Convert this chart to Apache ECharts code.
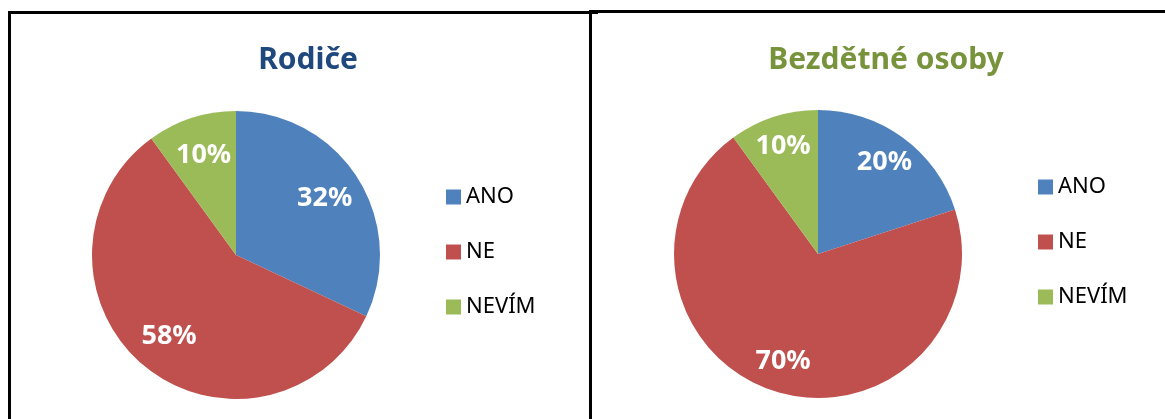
<!DOCTYPE html>
<html>
<head>
<meta charset="utf-8">
<script src="https://cdn.jsdelivr.net/npm/echarts@6/dist/echarts.min.js"></script>
<style>
  html, body { margin: 0; padding: 0; background: #fff; }
  #wrap { position: relative; width: 1165px; height: 419px; overflow: hidden; }
  .panel { position: absolute; box-sizing: border-box; border-top: 3px solid #000; border-left: 3px solid #000; }
  #p1 { left: 8px; top: 11px; width: 590px; height: 440px; }
  #p2 { left: 589px; top: 10px; width: 600px; height: 440px; }
  #chart { position: absolute; left: 0; top: 0; width: 1165px; height: 419px; }
</style>
</head>
<body>
<div id="wrap">
  <div class="panel" id="p1"></div>
  <div class="panel" id="p2"></div>
  <div id="chart"></div>
</div>
<script>
  // data
  const categories = ['ANO', 'NE', 'NEVÍM'];
  const rodiceValues = [32, 58, 10];
  const bezdetniValues = [20, 70, 10];
  const titles = ['Rodiče', 'Bezdětné osoby'];
  const colors = ['#4F81BD', '#C0504D', '#9BBB59'];

  const font = '"Noto Sans", "DejaVu Sans", sans-serif';

  function toData(vals) {
    return categories.map((name, i) => ({ name: name, value: vals[i] }));
  }

  // pie + transparent overlay that only carries the % labels
  function pieSeries(vals, center, innerR) {
    return [
      {
        type: 'pie',
        center: center,
        radius: 144,
        startAngle: 90,
        clockwise: true,
        silent: true,
        label: { show: false },
        labelLine: { show: false },
        data: toData(vals)
      },
      {
        type: 'pie',
        center: center,
        radius: [innerR, 144],
        startAngle: 90,
        clockwise: true,
        silent: true,
        legendHoverLink: false,
        itemStyle: { color: 'rgba(0,0,0,0)' },
        label: {
          show: true,
          position: 'inside',
          formatter: '{c}%',
          color: '#fff',
          fontFamily: font,
          fontWeight: 'bold',
          fontSize: 27
        },
        labelLine: { show: false },
        data: toData(vals).map(d => ({ name: d.name + ' ', value: d.value }))
      }
    ];
  }

  const legendBase = {
    orient: 'vertical',
    itemWidth: 15,
    itemHeight: 15,
    itemGap: 33,
    icon: 'rect',
    data: categories,
    textStyle: { fontFamily: font, fontSize: 22, color: '#000', lineHeight: 21 }
  };

  const chart = echarts.init(document.getElementById('chart'));
  chart.setOption({
    animation: false,
    color: colors,
    title: [
      {
        text: titles[0], left: 303, top: 40, textAlign: 'center',
        textStyle: { fontFamily: font, fontWeight: 'bold', fontSize: 30, color: '#1F497D' }
      },
      {
        text: titles[1], left: 881, top: 40, textAlign: 'center',
        textStyle: { fontFamily: font, fontWeight: 'bold', fontSize: 30, color: '#77933C' }
      }
    ],
    legend: [
      Object.assign({}, legendBase, { left: 441, top: 181 }),
      Object.assign({}, legendBase, { left: 1033, top: 171 })
    ],
    series: [].concat(
      pieSeries(rodiceValues, [236, 255], 60),
      pieSeries(bezdetniValues, [818, 254], 76)
    )
  });
</script>
</body>
</html>
